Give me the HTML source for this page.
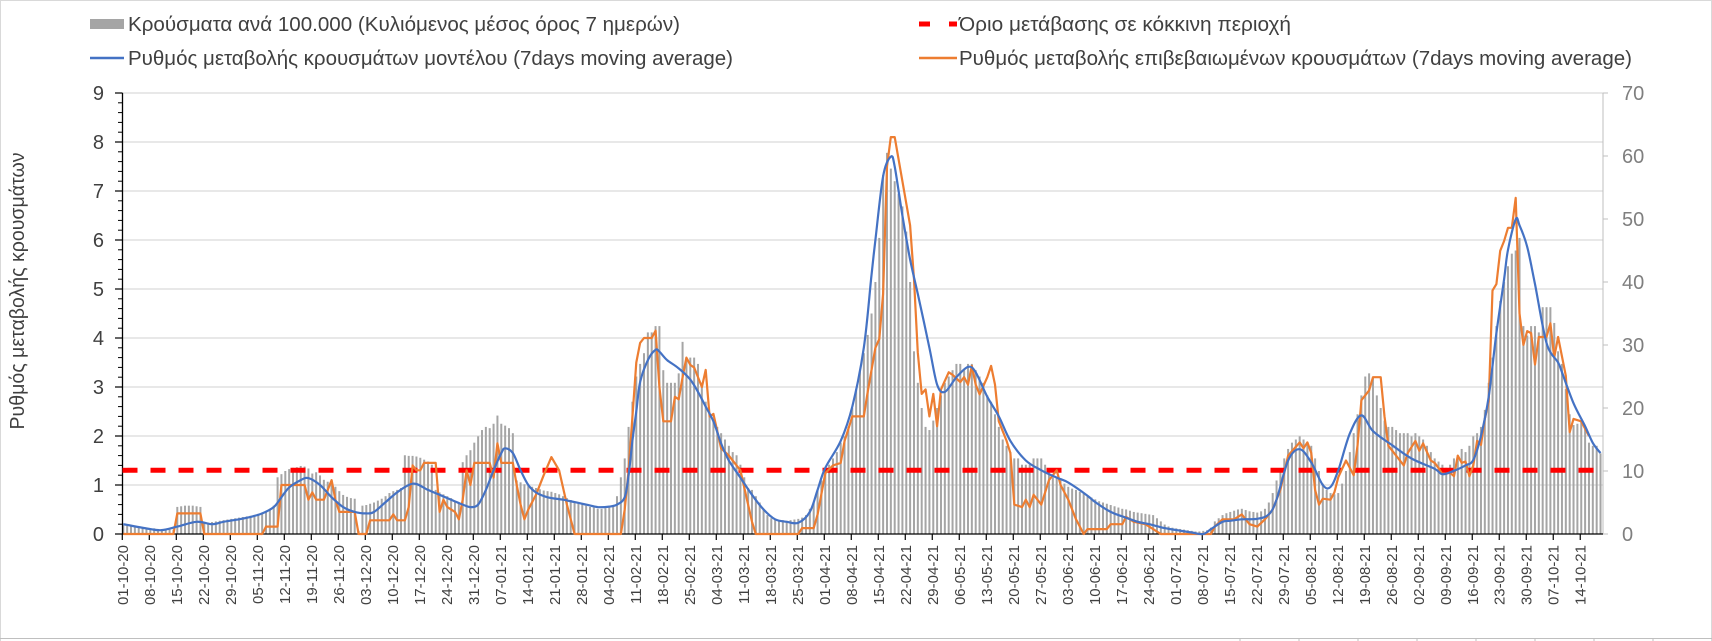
<!DOCTYPE html>
<html><head><meta charset="utf-8"><style>
html,body{margin:0;padding:0;background:#fff;}
svg{display:block;font-family:"Liberation Sans","DejaVu Sans",sans-serif;}
</style></head><body>
<svg id="chart" width="1712" height="641" viewBox="0 0 1712 641" xmlns="http://www.w3.org/2000/svg">
<rect x="0.5" y="0.5" width="1711" height="660" fill="#fff" stroke="#d9d9d9"/>
<line x1="0" y1="638.5" x2="1712" y2="638.5" stroke="#bfbfbf"/>
<g id="sepTicks"></g>
<g id="grid"></g>
<g id="bars"></g>
<g id="axes"></g>
<line id="threshold" stroke="#ff0000" stroke-width="5" stroke-dasharray="15 13"/>
<path id="orangeLine" fill="none" stroke="#ed7d31" stroke-width="2.2" stroke-linejoin="round"/>
<path id="blueLine" fill="none" stroke="#4472c4" stroke-width="2.2" stroke-linejoin="round"/>
<g id="labels"></g>
<text transform="translate(24,291) rotate(-90)" text-anchor="middle" font-size="20" fill="#404040" textLength="277" lengthAdjust="spacingAndGlyphs">Ρυθμός μεταβολής κρουσμάτων</text>
<g>
 <g>
  <rect x="90" y="19" width="34" height="10" fill="#a5a5a5"/>
  <text x="128" y="31" font-size="20" fill="#404040" textLength="552" lengthAdjust="spacingAndGlyphs">Κρούσματα ανά 100.000 (Κυλιόμενος μέσος όρος 7 ημερών)</text>
 </g>
 <g>
  <line x1="90" y1="58" x2="124" y2="58" stroke="#4472c4" stroke-width="2.5"/>
  <text x="128" y="65" font-size="20" fill="#404040" textLength="605" lengthAdjust="spacingAndGlyphs">Ρυθμός μεταβολής κρουσμάτων μοντέλου (7days moving average)</text>
 </g>
 <g>
  <line x1="919" y1="24" x2="957" y2="24" stroke="#ff0000" stroke-width="5" stroke-dasharray="11 19"/>
  <text x="959" y="31" font-size="20" fill="#404040" textLength="332" lengthAdjust="spacingAndGlyphs">Όριο μετάβασης σε κόκκινη περιοχή</text>
 </g>
 <g>
  <line x1="919" y1="58" x2="957" y2="58" stroke="#ed7d31" stroke-width="2.5"/>
  <text x="959" y="65" font-size="20" fill="#404040" textLength="673" lengthAdjust="spacingAndGlyphs">Ρυθμός μεταβολής επιβεβαιωμένων κρουσμάτων (7days moving average)</text>
 </g>
</g>
</svg>
<script>
// day index 0 = 01-10-20
const xTickLabels = ["01-10-20","08-10-20","15-10-20","22-10-20","29-10-20","05-11-20","12-11-20","19-11-20","26-11-20","03-12-20","10-12-20","17-12-20","24-12-20","31-12-20","07-01-21","14-01-21","21-01-21","28-01-21","04-02-21","11-02-21","18-02-21","25-02-21","04-03-21","11-03-21","18-03-21","25-03-21","01-04-21","08-04-21","15-04-21","22-04-21","29-04-21","06-05-21","13-05-21","20-05-21","27-05-21","03-06-21","10-06-21","17-06-21","24-06-21","01-07-21","08-07-21","15-07-21","22-07-21","29-07-21","05-08-21","12-08-21","19-08-21","26-08-21","02-09-21","09-09-21","16-09-21","23-09-21","30-09-21","07-10-21","14-10-21"];
const leftTicks = [0,1,2,3,4,5,6,7,8,9];
const rightTicks = [0,10,20,30,40,50,60,70];
const thresholdValue = [1.3];
const barsOct20 = [1.4,1.3,1.2,1.2,1.1,1.0,1.0,0.9,0.9,0.8,0.8,0.8,0.7,0.7,4.3,4.4,4.5,4.5,4.5,4.4,4.3,1.7,1.8,1.9,2.0,2.1,2.2,2.3,2.4,2.5,2.6];
const barsNov20 = [2.7,2.8,2.9,3.0,3.2,3.4,3.6,4.0,4.5,9.0,9.5,10.0,10.3,10.5,10.6,10.8,10.7,10.4,9.6,9.8,9.3,8.6,8.3,8.0,7.5,6.8,6.2,5.9,5.7,5.6];
const barsDec20 = [0.5,4.5,4.6,4.8,5.0,5.3,5.6,6.0,6.5,6.8,7.0,7.3,12.5,12.4,12.4,12.3,12.1,11.8,11.5,11.0,7.0,6.6,6.3,6.0,5.7,5.3,5.0,11.4,12.5,13.3,14.5];
const barsJan21 = [15.5,16.5,17.0,16.8,17.5,18.8,17.5,17.2,16.8,16.0,8.5,8.2,7.9,7.7,7.5,7.3,7.1,6.9,6.8,6.7,6.5,6.3,6.0,5.7,5.4,5.1,4.9,4.7,4.5,4.3,4.2];
const barsFeb21 = [4.0,4.0,4.1,4.2,4.5,6,9,12,17,21,25,27,28.7,32,32,33,33,26,24,24,24,25.5,30.5,28,28,28,27,24];
const barsMar21 = [21,19,18,17,16,15,14,13,12.5,11,9,7.3,7,6,5,4,3,2.5,2.3,2.2,2.2,2.1,2.2,2.3,2.4,2.6,3.0,4,5,7,8.5];
const barsApr21 = [10,11,12,13,14.5,15.5,17,20,23,26,28.7,31.6,35,40,47,57,60.5,58,56,54,52,48,40,29,24,20,17,16.5,18,20];
const barsMay21 = [22,24,25,26,27,27,26,27,27,26,25,24,22,21,19,17,15,14,13,12,12,11,11,11,12,12,12,11,10,9,9];
const barsJun21 = [8.5,8,7.5,7.2,7,6.7,6.4,6.1,5.8,5.5,5.2,5.0,4.8,4.6,4.4,4.2,4.0,3.9,3.7,3.5,3.4,3.3,3.2,3.1,3.0,2.5,2.0,1.5,1.2,1.0];
const barsJul21 = [0.9,0.8,0.7,0.6,0.5,0.4,0.4,0.5,0.6,1.0,2.0,2.5,3.0,3.3,3.5,3.7,3.9,4.0,3.8,3.6,3.5,3.4,3.6,4.0,5.0,6.5,8.5,10,12,13.5,14.5];
const barsAug21 = [15,15.5,15,14.5,14,12,10,8,7,6.5,6.3,6.5,8,10,13,16,19,22,25,25.5,25,22,20,18,17,17,16.5,16,16,16,15.5];
const barsSep21 = [16,15.5,15,14,13,12,11.5,11,10.5,11,12,12.5,13.5,13,14,15.5,16,17,19.7,24,28,33,37,40,42.5,44.5,45,47,33,31.5];
const barsOct21 = [33,33,32,36,36,36,33.5,29,27,23,19,17.3,17.5,18,17,14.5,14,14,12.8];
const blueDay = [0,7,10,14,19,23,26,30,33,36,39,41,43,46,48,51,54,57,60,63,65,68,71,74,76,79,82,85,88,90,92,94,96,98,99,101,103,105,107,110,114,117,120,123,126,128,130,131,132,133,134,136,138,139,141,144,147,149,151,153,155,157,160,163,166,169,172,175,178,180,182,186,189,192,194,195,197,199,200,202,204,206,209,211,213,216,219,221,224,227,230,234,238,242,245,250,252,256,259,263,266,270,273,277,280,282,285,287,290,294,297,299,302,305,308,311,313,315,318,321,324,329,334,340,342,345,348,350,352,354,356,358,359,361,362,364,366,369,372,373,376,379,381,383];
const blueVal = [0.2,0.1,0.08,0.15,0.25,0.2,0.25,0.3,0.35,0.42,0.55,0.75,0.95,1.1,1.14,1.0,0.75,0.55,0.45,0.42,0.45,0.65,0.85,1.0,1.02,0.9,0.8,0.7,0.6,0.55,0.6,0.9,1.3,1.65,1.75,1.65,1.3,1.0,0.85,0.75,0.7,0.65,0.6,0.55,0.56,0.6,0.75,1.2,1.9,2.5,3.1,3.55,3.76,3.72,3.55,3.38,3.15,2.9,2.6,2.3,1.85,1.5,1.15,0.8,0.5,0.3,0.25,0.23,0.45,0.9,1.35,1.9,2.6,3.8,5.3,6.0,7.3,7.7,7.5,6.5,5.6,4.9,3.8,3.05,2.9,3.2,3.41,3.3,2.8,2.4,1.9,1.5,1.3,1.15,1.05,0.78,0.65,0.45,0.36,0.25,0.2,0.12,0.08,0.03,0.0,0.1,0.25,0.27,0.3,0.31,0.4,0.7,1.5,1.73,1.46,1.0,0.96,1.3,2.05,2.42,2.1,1.81,1.54,1.33,1.22,1.29,1.4,1.51,2.0,2.8,4.1,5.2,5.8,6.42,6.3,5.86,5.1,3.9,3.5,3.3,2.67,2.2,1.86,1.65];
const orangeDay = [0,13,14,20,21,36,37,40,41,47,48,49,50,52,54,55,56,57,60,61,63,64,69,70,71,73,74,75,76,77,78,81,82,83,84,86,87,88,89,90,91,95,96,97,98,101,102,103,104,105,107,109,111,113,115,117,129,130,131,133,134,135,137,138,139,140,142,143,144,145,146,147,148,150,151,152,153,155,157,160,162,163,164,175,176,179,180,182,184,186,187,189,192,193,195,196,197,198,199,200,202,204,205,206,207,208,209,210,211,212,214,215,217,218,219,220,221,222,224,225,226,227,229,230,231,233,234,235,236,238,240,242,243,245,247,249,250,255,256,259,260,262,265,267,269,282,283,285,288,290,292,294,296,298,300,302,305,306,307,308,309,310,311,313,314,315,317,319,320,321,323,324,326,327,328,330,332,333,335,336,337,339,340,341,342,344,345,346,347,348,349,350,351,352,353,354,355,356,357,358,359,360,361,362,363,364,365,366,367,369,370,371,372,374,375,376,378,380];
const orangeVal = [0,0,0.42,0.42,0,0,0.15,0.15,1.0,1.0,0.7,0.85,0.7,0.7,1.1,0.7,0.45,0.45,0.45,0,0,0.28,0.28,0.4,0.28,0.28,0.55,1.4,1.3,1.3,1.45,1.45,0.45,0.7,0.55,0.45,0.3,0.7,1.3,1.0,1.45,1.45,1.15,1.85,1.45,1.45,1.0,0.6,0.3,0.5,0.8,1.2,1.57,1.3,0.6,0,0,0.5,1.3,3.5,3.9,4.0,4.0,4.15,3.0,2.3,2.3,2.8,2.75,3.2,3.6,3.45,3.4,3.0,3.35,2.4,2.45,1.75,1.6,1.3,0.6,0.25,0,0,0.12,0.12,0.4,1.24,1.4,1.45,1.9,2.4,2.4,2.9,3.8,3.98,4.9,7.5,8.1,8.1,7.2,6.3,5.2,3.7,2.86,2.95,2.4,2.86,2.2,2.95,3.3,3.25,3.1,3.2,3.05,3.43,3.05,2.85,3.2,3.43,3.05,2.3,1.9,1.65,0.6,0.55,0.7,0.55,0.8,0.6,1.1,1.3,1.0,0.7,0.3,0,0.1,0.1,0.2,0.2,0.35,0.25,0.2,0.1,0,0,0.15,0.3,0.3,0.4,0.2,0.15,0.3,0.5,0.9,1.6,1.87,1.75,1.87,1.65,0.9,0.6,0.72,0.7,0.85,1.16,1.5,1.2,1.8,2.73,2.93,3.2,3.2,2.4,1.8,1.6,1.4,1.65,1.9,1.7,1.85,1.5,1.45,1.35,1.22,1.25,1.18,1.6,1.45,1.48,1.18,1.4,1.9,1.82,2.35,2.7,4.97,5.1,5.78,5.98,6.25,6.25,6.86,4.5,3.86,4.14,4.1,3.46,4.02,4.02,4.3,3.6,4.02,3.23,2.08,2.35,2.3,2.0];

const barsDaily = [].concat(barsOct20,barsNov20,barsDec20,barsJan21,barsFeb21,barsMar21,barsApr21,barsMay21,barsJun21,barsJul21,barsAug21,barsSep21,barsOct21);
const NS="http://www.w3.org/2000/svg";
const X0=123.3, DX=3.857, Y0=534, PL=49, PR=441/70, XL=122.5, XR=1603;
const xOf=d=>X0+DX*d, yL=v=>Y0-PL*v, yR=v=>Y0-PR*v;
function mk(tag,attrs,parent){const e=document.createElementNS(NS,tag);for(const k in attrs)e.setAttribute(k,attrs[k]);parent.appendChild(e);return e;}
const grid=document.getElementById('grid'),axes=document.getElementById('axes'),labels=document.getElementById('labels'),bars=document.getElementById('bars');
leftTicks.forEach(v=>{ if(v>0){const g=mk('line',{x1:XL,x2:XR,y1:yL(v),y2:yL(v),stroke:'#d9d9d9','stroke-width':1.3},grid);

}
 const t=mk('text',{x:104,y:yL(v)+7,'text-anchor':'end','font-size':20,fill:'#404040'},labels);t.textContent=v;
 
 
 mk('line',{x1:115,x2:XL,y1:yL(v),y2:yL(v),stroke:'#000','stroke-width':1.2},axes);
 if(v<9){for(let m=1;m<5;m++){mk('line',{x1:118,x2:XL,y1:yL(v+m*0.2),y2:yL(v+m*0.2),stroke:'#000','stroke-width':1},axes);}}
});
rightTicks.forEach(v=>{const t=mk('text',{x:1622,y:yR(v)+7,'font-size':20,fill:'#7f7f7f'},labels);t.textContent=v;
 
 
 mk('line',{x1:XR,x2:XR+5,y1:yR(v),y2:yR(v),stroke:'#bfbfbf','stroke-width':1},axes);});
mk('line',{x1:XR,x2:XR,y1:yR(70),y2:Y0,stroke:'#bfbfbf','stroke-width':1},axes);
barsDaily.forEach((v,i)=>{const r=mk('rect',{x:xOf(i)-1,y:yR(v),width:2,height:Y0-yR(v),fill:'#a5a5a5'},bars);
 
 });
mk('line',{x1:XL,x2:XL,y1:yL(9),y2:Y0,stroke:'#000','stroke-width':1.3},axes);
mk('line',{x1:XL,x2:XR,y1:Y0,y2:Y0,stroke:'#000','stroke-width':1.3},axes);
xTickLabels.forEach((s,k)=>{const x=xOf(7*k)-1;mk('line',{x1:x,x2:x,y1:Y0,y2:Y0+6,stroke:'#000','stroke-width':1.2},axes);
 const t=mk('text',{transform:`translate(${x+5.5},545) rotate(-90)`,'text-anchor':'end','font-size':15,fill:'#404040'},labels);t.textContent=s;
 
 });
const th=document.getElementById('threshold');th.setAttribute('x1',XL);th.setAttribute('x2',1597);th.setAttribute('y1',yL(thresholdValue[0]));th.setAttribute('y2',yL(thresholdValue[0]));
let od='';orangeDay.forEach((d,i)=>{od+=(i?'L':'M')+xOf(d).toFixed(1)+','+yL(orangeVal[i]).toFixed(1);});
document.getElementById('orangeLine').setAttribute('d',od);
const P=blueDay.map((d,i)=>[xOf(d),yL(blueVal[i])]);
let bd='M'+P[0][0].toFixed(1)+','+P[0][1].toFixed(1);
for(let i=0;i<P.length-1;i++){const p0=P[Math.max(0,i-1)],p1=P[i],p2=P[i+1],p3=P[Math.min(P.length-1,i+2)];
 const c1=[p1[0]+(p2[0]-p0[0])/6,p1[1]+(p2[1]-p0[1])/6],c2=[p2[0]-(p3[0]-p1[0])/6,p2[1]-(p3[1]-p1[1])/6];
 bd+=`C${c1[0].toFixed(1)},${c1[1].toFixed(1)} ${c2[0].toFixed(1)},${c2[1].toFixed(1)} ${p2[0].toFixed(1)},${p2[1].toFixed(1)}`;}
document.getElementById('blueLine').setAttribute('d',bd);
const st=document.getElementById('sepTicks');
for(let x=1240;x<1712;x+=59){mk('line',{x1:x,x2:x,y1:638,y2:641,stroke:'#bfbfbf'},st);}
</script>
</body></html>
